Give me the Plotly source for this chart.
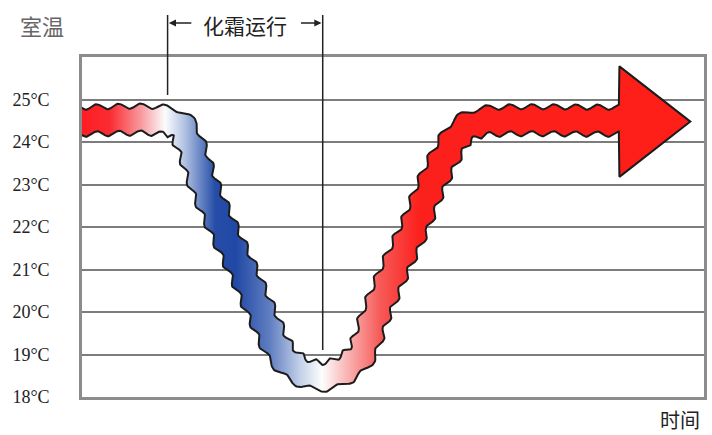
import numpy as np
import plotly.graph_objects as go

# Room temperature (°C) through one defrost cycle; time in arbitrary units (0-100)
time_pts = [-2.0, 13.3, 15.6, 17.2, 19.6, 22.56, 25.76, 28.8, 32.16, 34.9, 37.8,
            40.5, 43.2, 44.8, 47.36, 50.24, 53.44, 56.2, 58.9, 61.0, 63.6, 67.0, 86.4]
temp_pts = [24.5, 24.5, 24.4, 24.0, 23.0, 22.0, 21.0, 20.0, 19.0, 18.64, 18.5,
            18.54, 18.76, 19.0, 20.0, 21.0, 22.0, 23.0, 23.8, 24.25, 24.45, 24.5, 24.5]

# Arrow head at the end of the curve
arrow_base_t, arrow_tip_t = 86.4, 97.8
arrow_top_temp, arrow_bottom_temp, arrow_mid_temp = 25.78, 23.18, 24.48

# Defrost period markers
defrost_start_t, defrost_end_t = 13.76, 38.7

tick_temps = [18, 19, 20, 21, 22, 23, 24, 25]
tick_text = [f"{v}°C" for v in tick_temps]

X_RANGE = [0, 100]
Y_RANGE = [18, 26]

W, H = 712, 435
M_L, M_R, M_T, M_B = 82, 5, 57, 38
plot_w = W - M_L - M_R
plot_h = H - M_T - M_B
sx = plot_w / (X_RANGE[1] - X_RANGE[0])   # px per time unit
sy = plot_h / (Y_RANGE[1] - Y_RANGE[0])   # px per °C


def to_px(t, T):
    return np.column_stack([(np.asarray(t) - X_RANGE[0]) * sx,
                            (np.asarray(T) - Y_RANGE[0]) * sy])


def from_px(P):
    return P[:, 0] / sx + X_RANGE[0], P[:, 1] / sy + Y_RANGE[0]


def catmull_rom(P, n=40, alpha=0.5):
    P = np.vstack([2 * P[0] - P[1], P, 2 * P[-1] - P[-2]])
    out = []
    for i in range(len(P) - 3):
        p0, p1, p2, p3 = P[i:i + 4]
        t0 = 0.0
        t1 = t0 + max(np.linalg.norm(p1 - p0), 1e-6) ** alpha
        t2 = t1 + max(np.linalg.norm(p2 - p1), 1e-6) ** alpha
        t3 = t2 + max(np.linalg.norm(p3 - p2), 1e-6) ** alpha
        t = np.linspace(t1, t2, n, endpoint=False)[:, None]
        A1 = (t1 - t) / (t1 - t0) * p0 + (t - t0) / (t1 - t0) * p1
        A2 = (t2 - t) / (t2 - t1) * p1 + (t - t1) / (t2 - t1) * p2
        A3 = (t3 - t) / (t3 - t2) * p2 + (t - t2) / (t3 - t2) * p3
        B1 = (t2 - t) / (t2 - t0) * A1 + (t - t0) / (t2 - t0) * A2
        B2 = (t3 - t) / (t3 - t1) * A2 + (t - t1) / (t3 - t1) * A3
        out.append((t2 - t) / (t2 - t1) * B1 + (t - t1) / (t2 - t1) * B2)
    out.append(P[-2][None])
    return np.vstack(out)


def resample(C, step=1.0):
    seg = np.linalg.norm(np.diff(C, axis=0), axis=1)
    s = np.concatenate([[0], np.cumsum(seg)])
    s_new = np.arange(0, s[-1], step)
    s_new = np.append(s_new, s[-1])
    return np.column_stack([np.interp(s_new, s, C[:, 0]), np.interp(s_new, s, C[:, 1])]), s_new


def smooth(A, k=9):
    kern = np.ones(k) / k
    pad = np.pad(A, ((k // 2, k // 2), (0, 0)), mode="edge")
    return np.column_stack([np.convolve(pad[:, j], kern, mode="valid") for j in range(A.shape[1])])


# Wavy ribbon following the temperature curve (pixel space keeps waves round)
center, s = resample(catmull_rom(to_px(time_pts, temp_pts)))
center = smooth(center, 7)
tang = np.gradient(smooth(center, 15), axis=0)
tang /= np.linalg.norm(tang, axis=1)[:, None]
normal = np.column_stack([-tang[:, 1], tang[:, 0]])
half_w, amp, wavelength = 13.5, 2.6, 22.0
wig = amp * np.sin(2 * np.pi * s / wavelength)
upper = center + normal * (half_w + wig)[:, None]
lower = center + normal * (-half_w + wig)[:, None]

ut, uT = from_px(upper)
lt, lT = from_px(lower)
# keep the band edges ending at the arrow base
ut, lt = np.minimum(ut, arrow_base_t), np.minimum(lt, arrow_base_t)

poly_t = np.concatenate([ut, [arrow_base_t, arrow_tip_t, arrow_base_t], lt[::-1], [ut[0]]])
poly_T = np.concatenate([uT, [arrow_top_temp, arrow_mid_temp, arrow_bottom_temp], lT[::-1], [uT[0]]])

# Colour along the time axis: red -> white -> blue -> white -> red
grad_start, grad_stop = -2.0, arrow_tip_t
grad_stops = [(-2.0, "rgb(255,22,28)"), (4.5, "rgb(250,45,50)"), (9.3, "rgb(248,150,155)"),
              (13.3, "rgb(252,252,253)"), (16.5, "rgb(175,192,225)"), (21.3, "rgb(38,78,168)"),
              (24.5, "rgb(32,72,165)"), (30.0, "rgb(95,125,192)"), (34.9, "rgb(195,208,232)"),
              (38.4, "rgb(253,253,253)"), (41.3, "rgb(250,200,200)"), (47.7, "rgb(246,90,88)"),
              (54.0, "rgb(252,32,28)"), (arrow_tip_t, "rgb(255,30,24)")]
colorscale = [[(t - grad_start) / (grad_stop - grad_start), c] for t, c in grad_stops]

fig = go.Figure()
fig.add_trace(go.Scatter(
    x=poly_t, y=poly_T, mode="lines", fill="toself",
    fillgradient=dict(type="horizontal", colorscale=colorscale, start=grad_start, stop=grad_stop),
    line=dict(color="#1c1c1c", width=2), hoverinfo="skip", showlegend=False,
))


def px_x(t):
    return (t - X_RANGE[0]) / (X_RANGE[1] - X_RANGE[0])


def paper_y(py):
    return (H - M_B - py) / plot_h


line_style = dict(color="#222222", width=1.5)
fig.add_shape(type="line", xref="paper", yref="paper",
              x0=px_x(defrost_start_t), x1=px_x(defrost_start_t), y0=paper_y(15), y1=paper_y(95),
              line=line_style)
fig.add_shape(type="line", xref="paper", yref="paper",
              x0=px_x(defrost_end_t), x1=px_x(defrost_end_t), y0=paper_y(15), y1=paper_y(350),
              line=line_style)

cjk = "Noto Sans CJK SC"
annos = [
    dict(text="室温", x=(42 - M_L) / plot_w, y=paper_y(25), font=dict(family=cjk, size=22, color="#666666")),
    dict(text="化霜运行", x=px_x((defrost_start_t + defrost_end_t) / 2), y=paper_y(25),
         font=dict(family=cjk, size=21, color="#222222")),
    dict(text="时间", x=(683 - M_L) / plot_w, y=paper_y(419), font=dict(family=cjk, size=20, color="#222222")),
]
for a in annos:
    fig.add_annotation(xref="paper", yref="paper", showarrow=False, xanchor="center", yanchor="middle", **a)

arrow_y = paper_y(23)
fig.add_annotation(xref="paper", yref="paper", x=px_x(defrost_start_t) + 0.002, y=arrow_y,
                   ax=24, ay=0, text="", showarrow=True, arrowhead=2, arrowsize=1.1,
                   arrowwidth=1.3, arrowcolor="#222222")
fig.add_annotation(xref="paper", yref="paper", x=px_x(defrost_end_t) - 0.002, y=arrow_y,
                   ax=-22, ay=0, text="", showarrow=True, arrowhead=2, arrowsize=1.1,
                   arrowwidth=1.3, arrowcolor="#222222")

fig.update_layout(
    width=W, height=H, margin=dict(l=M_L, r=M_R, t=M_T, b=M_B),
    paper_bgcolor="white", plot_bgcolor="white",
    xaxis=dict(range=X_RANGE, showgrid=False, zeroline=False, showticklabels=False, ticks="",
               showline=True, mirror=True, linecolor="#8c8c8c", linewidth=2.5, fixedrange=True),
    yaxis=dict(range=Y_RANGE, tickvals=tick_temps, ticktext=tick_text, showgrid=True,
               gridcolor="#7c7c7c", gridwidth=2, zeroline=False, ticks="",
               showline=True, mirror=True, linecolor="#8c8c8c", linewidth=2.5,
               tickfont=dict(family="Liberation Serif", size=18, color="#222222"),
               ticklabelstandoff=26, fixedrange=True),
)

fig.write_html("out.html")
